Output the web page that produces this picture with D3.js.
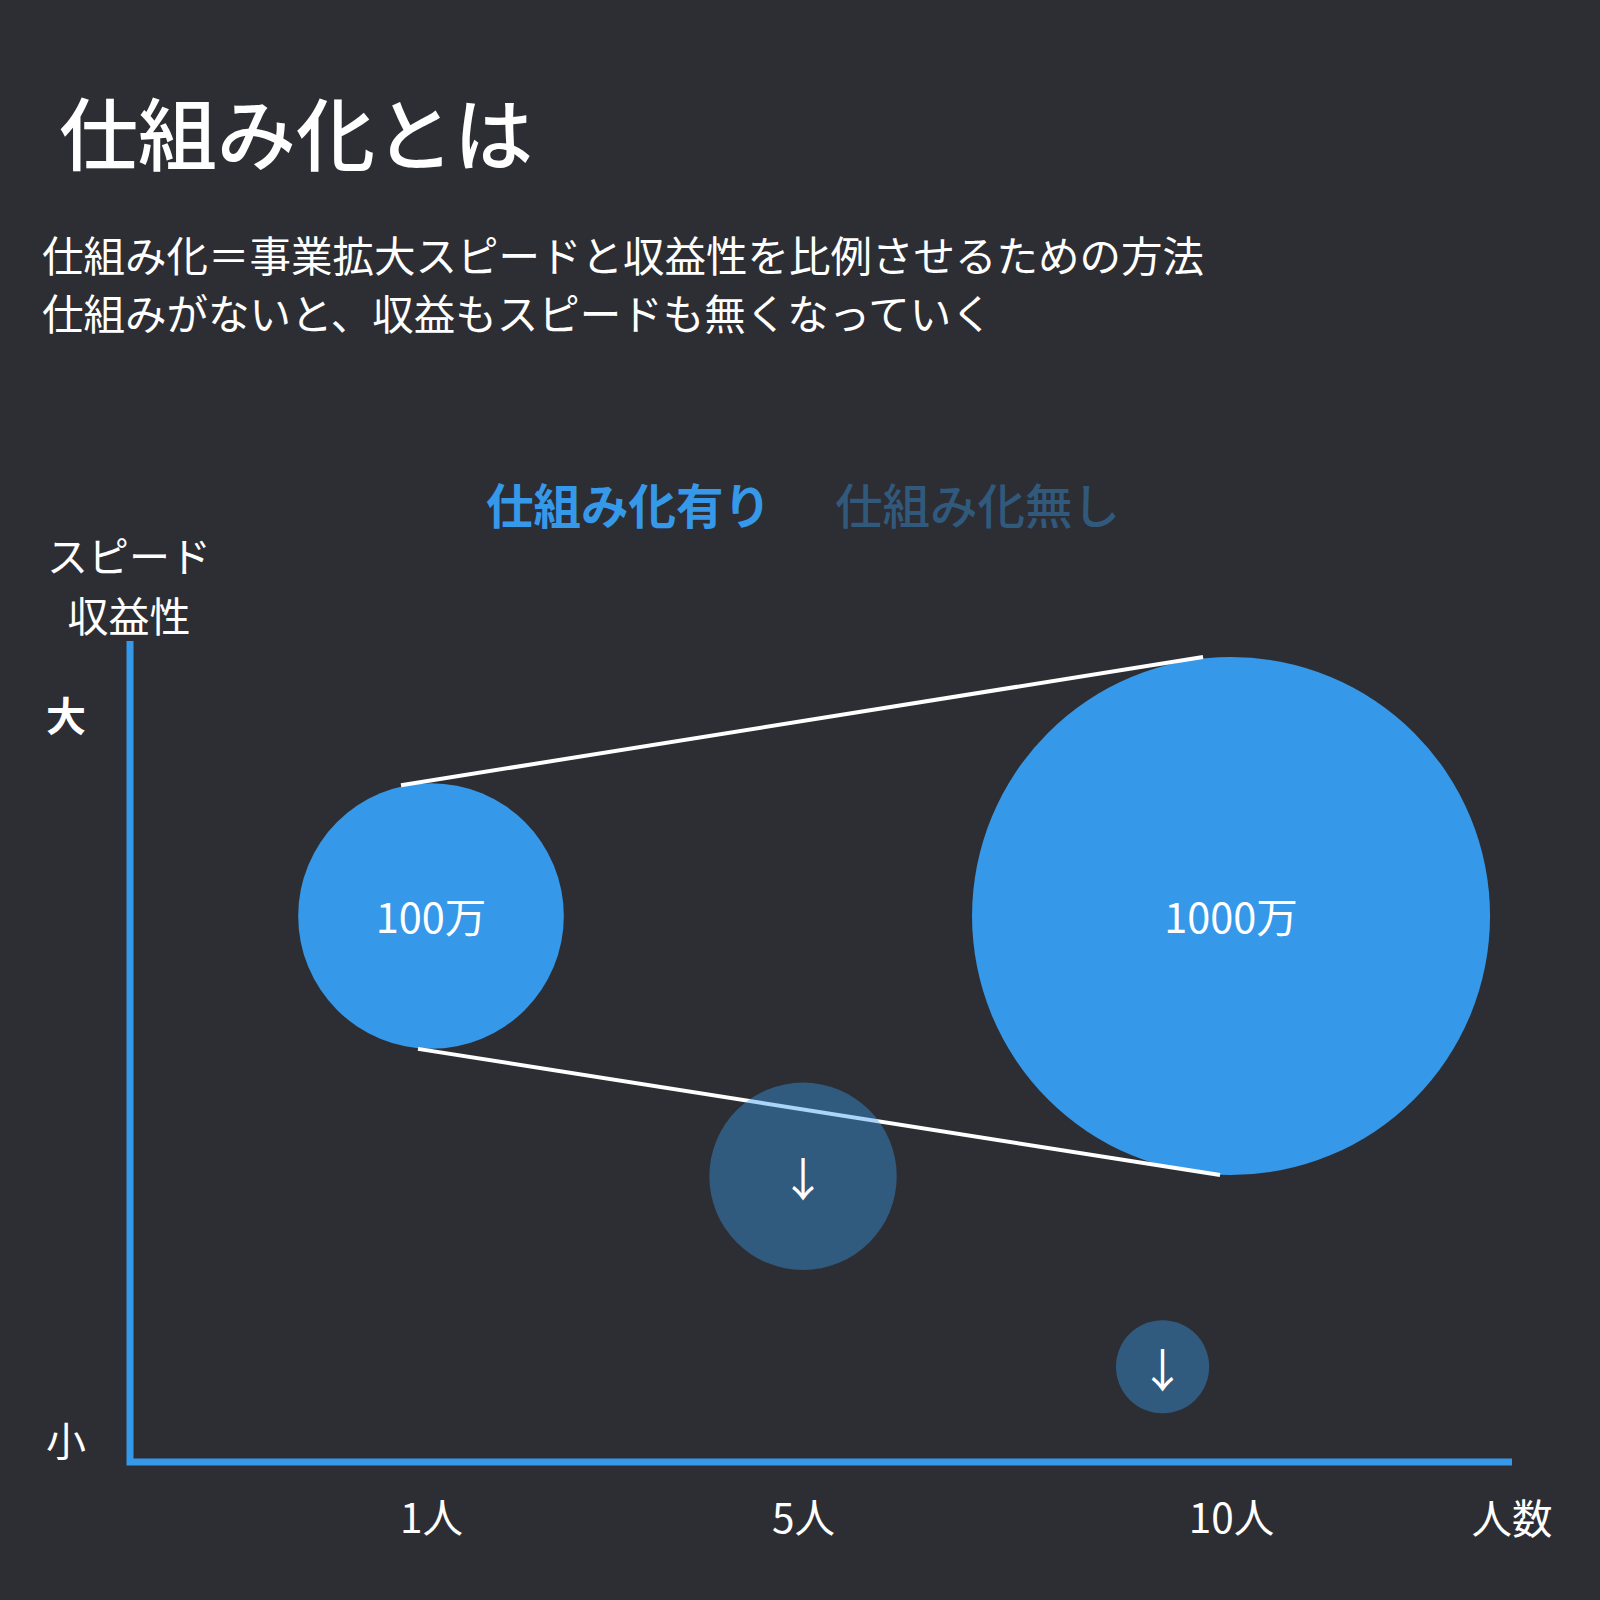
<!DOCTYPE html>
<html>
<head>
<meta charset="utf-8">
<script src="https://cdn.jsdelivr.net/npm/d3@7"></script>
<style>
  html, body { margin: 0; padding: 0; background: #2d2e33; }
  svg text { font-family: "Noto Sans CJK JP", "Noto Sans", sans-serif; }
</style>
</head>
<body>
<div id="chart"></div>
<script>
// Texts
const title = "仕組み化とは"
const subtitleLines = [
  "仕組み化＝事業拡大スピードと収益性を比例させるための方法",
  "仕組みがないと、収益もスピードも無くなっていく",
]
const seriesNames = ["仕組み化有り", "仕組み化無し"]
const yAxisTitle = ["スピード", "収益性"]
const yTickLabels = ["大", "小"]
const yTickValues = [9.1, 0.27]
const xAxisTitle = "人数"

// Headcount on the x axis
const xTickValues = [1, 5, 10]
const xTickLabels = ["1人", "5人", "10人"]

// With system: headcount, speed/profit (0-10), revenue (万)
const withPeople = [1, 10]
const withSpeed = [6.65, 6.65]
const withRevenue = [100, 1000]
const withLabels = ["100万", "1000万"]

// Without system
const withoutPeople = [5, 9.2]
const withoutSpeed = [3.48, 1.16]
const withoutRevenue = [30, 2.7]
const withoutLabels = ["↓", "↓"]

const W = 1600
const H = 1600
const plot = { left: 130, right: 1512, top: 641, bottom: 1462 }
const plotW = plot.right - plot.left

const blue = "#3698e9"
const bg = "#2d2e33"
const fadedOpacity = 0.42

const x = d3
  .scaleLinear()
  .domain(xTickValues)
  .range([0.2178, 0.487, 0.7967].map(f => plot.left + f * plotW))

const y = d3.scaleLinear().domain([0, 10]).range([plot.bottom, plot.top])

const r = d3.scalePow().exponent(0.29).domain([0, 1000]).range([0, 259])

const svg = d3
  .select("#chart")
  .append("svg")
  .attr("width", W)
  .attr("height", H)
  .attr("viewBox", `0 0 ${W} ${H}`)

svg.append("rect").attr("width", W).attr("height", H).attr("fill", bg)

// Title
svg
  .append("text")
  .attr("x", 59)
  .attr("y", 165)
  .attr("fill", "#fff")
  .style("font-size", "79px")
  .style("font-weight", 500)
  .text(title)

svg
  .selectAll(".subtitle")
  .data(subtitleLines)
  .enter()
  .append("text")
  .attr("class", "subtitle")
  .attr("x", 42)
  .attr("y", (d, i) => 272 + i * 58)
  .attr("fill", "#fff")
  .style("font-size", "41.5px")
  .text(d => d)

// Legend
svg
  .selectAll(".legend")
  .data(seriesNames)
  .enter()
  .append("text")
  .attr("class", "legend")
  .attr("x", (d, i) => (i === 0 ? 486 : 835))
  .attr("y", 524)
  .attr("fill", blue)
  .attr("fill-opacity", (d, i) => (i === 0 ? 1 : fadedOpacity))
  .style("font-size", "47.5px")
  .style("font-weight", (d, i) => (i === 0 ? 700 : 500))
  .text(d => d)

// Y axis title
svg
  .selectAll(".ytitle")
  .data(yAxisTitle)
  .enter()
  .append("text")
  .attr("class", "ytitle")
  .attr("x", 129)
  .attr("y", (d, i) => 572 + i * 60)
  .attr("text-anchor", "middle")
  .attr("fill", "#fff")
  .style("font-size", "41px")
  .text(d => d)

// Axes
svg
  .append("path")
  .attr("d", `M${plot.left},${plot.top} V${plot.bottom} H${plot.right}`)
  .attr("fill", "none")
  .attr("stroke", blue)
  .attr("stroke-width", 7)
  .attr("stroke-linejoin", "miter")

const yAxis = svg
  .append("g")
  .attr("transform", `translate(${plot.left},0)`)
  .call(
    d3
      .axisLeft(y)
      .tickValues(yTickValues)
      .tickSize(0)
      .tickPadding(44)
      .tickFormat((d, i) => yTickLabels[i])
  )
  .call(g => g.select(".domain").remove())
yAxis
  .selectAll("text")
  .attr("fill", "#fff")
  .attr("dy", "0.38em")
  .style("font-family", '"Noto Sans CJK JP", sans-serif')
  .style("font-size", "40px")
  .style("font-weight", (d, i) => (i === 0 ? 700 : 400))

const xAxis = svg
  .append("g")
  .attr("transform", `translate(0,${plot.bottom})`)
  .call(
    d3
      .axisBottom(x)
      .tickValues(xTickValues)
      .tickSize(0)
      .tickPadding(42)
      .tickFormat((d, i) => xTickLabels[i])
  )
  .call(g => g.select(".domain").remove())
xAxis
  .selectAll("text")
  .attr("fill", "#fff")
  .attr("dy", "0.71em")
  .style("font-family", '"Noto Sans CJK JP", sans-serif')
  .style("font-size", "40.5px")

svg
  .append("text")
  .attr("x", plot.right)
  .attr("y", 1534)
  .attr("text-anchor", "middle")
  .attr("fill", "#fff")
  .style("font-size", "40.5px")
  .text(xAxisTitle)

// With-system circles
const withData = withPeople.map((p, i) => ({
  people: p,
  speed: withSpeed[i],
  revenue: withRevenue[i],
  label: withLabels[i],
}))

svg
  .selectAll(".with")
  .data(withData)
  .enter()
  .append("circle")
  .attr("class", "with")
  .attr("cx", d => x(d.people))
  .attr("cy", d => y(d.speed))
  .attr("r", d => r(d.revenue))
  .attr("fill", blue)

svg
  .selectAll(".withLabel")
  .data(withData)
  .enter()
  .append("text")
  .attr("class", "withLabel")
  .attr("x", d => x(d.people))
  .attr("y", d => y(d.speed) + 17)
  .attr("text-anchor", "middle")
  .attr("fill", "#fff")
  .style("font-size", "41.5px")
  .text(d => d.label)

// Connector lines (top-to-top, bottom-to-bottom)
const [a, b] = withData
const connectors = [
  [
    [x(a.people) - 30, y(a.speed) - r(a.revenue) + 2],
    [x(b.people) - 28, y(b.speed) - r(b.revenue)],
  ],
  [
    [x(a.people) - 13, y(a.speed) + r(a.revenue)],
    [x(b.people) - 11, y(b.speed) + r(b.revenue)],
  ],
]
svg
  .selectAll(".connector")
  .data(connectors)
  .enter()
  .append("path")
  .attr("class", "connector")
  .attr("d", d3.line())
  .attr("stroke", "#fff")
  .attr("stroke-width", 4)
  .attr("fill", "none")

// Without-system circles
const withoutData = withoutPeople.map((p, i) => ({
  people: p,
  speed: withoutSpeed[i],
  revenue: withoutRevenue[i],
  label: withoutLabels[i],
}))

svg
  .selectAll(".without")
  .data(withoutData)
  .enter()
  .append("circle")
  .attr("class", "without")
  .attr("cx", d => x(d.people))
  .attr("cy", d => y(d.speed))
  .attr("r", d => r(d.revenue))
  .attr("fill", blue)
  .attr("fill-opacity", fadedOpacity)

svg
  .selectAll(".withoutLabel")
  .data(withoutData)
  .enter()
  .append("text")
  .attr("class", "withoutLabel")
  .attr("x", d => x(d.people))
  .attr("y", d => y(d.speed))
  .attr("dominant-baseline", "central")
  .attr("text-anchor", "middle")
  .attr("fill", "#fff")
  .style("font-size", "46px")
  .text(d => d.label)
</script>
</body>
</html>
